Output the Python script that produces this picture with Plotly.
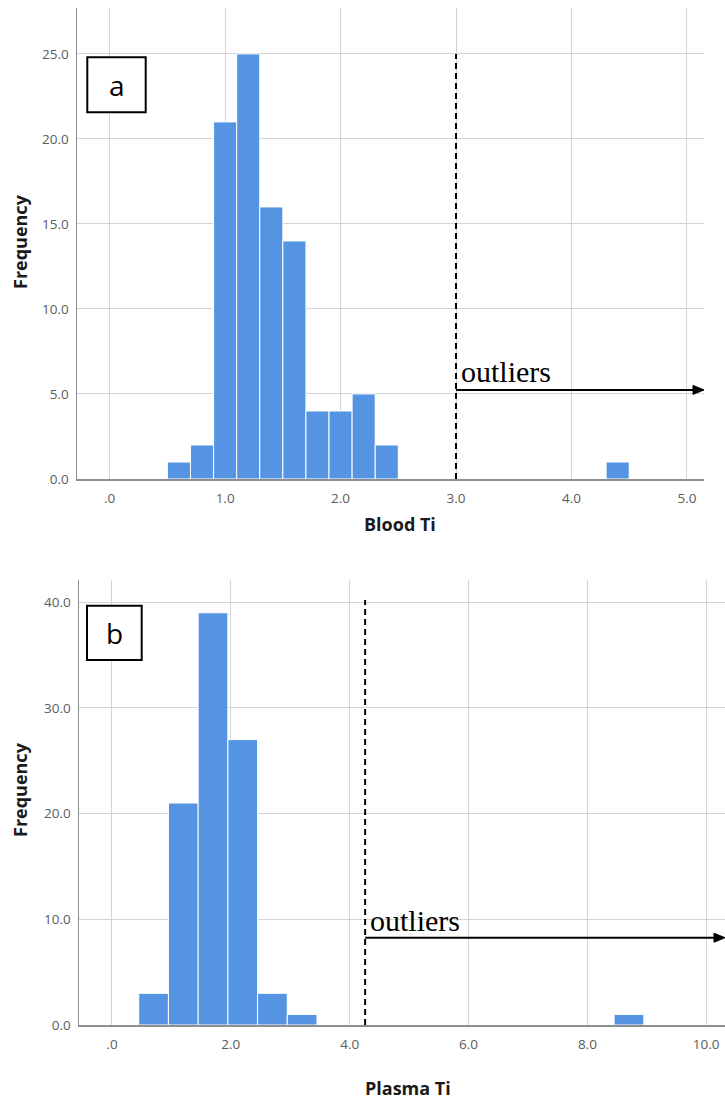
import plotly.graph_objects as go

# ---- Data ----
blood_bin_edges = [0.5, 0.7, 0.9, 1.1, 1.3, 1.5, 1.7, 1.9, 2.1, 2.3, 2.5, 4.3, 4.5]
blood_counts = [1, 2, 21, 25, 16, 14, 4, 4, 5, 2, None, 1]  # None = gap between 2.5 and 4.3
blood_xticks = [0, 1, 2, 3, 4, 5]
blood_xticktext = [".0", "1.0", "2.0", "3.0", "4.0", "5.0"]
blood_yticks = [0, 5, 10, 15, 20, 25]
blood_yticktext = ["0.0", "5.0", "10.0", "15.0", "20.0", "25.0"]
blood_cutoff = 3.0

plasma_bin_edges = [0.45, 0.95, 1.45, 1.95, 2.45, 2.95, 3.45, 8.45, 8.95]
plasma_counts = [3, 21, 39, 27, 3, 1, None, 1]
plasma_xticks = [0, 2, 4, 6, 8, 10]
plasma_xticktext = [".0", "2.0", "4.0", "6.0", "8.0", "10.0"]
plasma_yticks = [0, 10, 20, 30, 40]
plasma_yticktext = ["0.0", "10.0", "20.0", "30.0", "40.0"]
plasma_cutoff = 4.26

BAR = "#5594e2"
GRID = "#d4d4d4"
AXIS = "#8f8f8f"
TICKC = "#5c5c5c"
W, H = 725, 1100


def bars(edges, counts):
    xs, ws, ys = [], [], []
    for i, c in enumerate(counts):
        if c is None:
            continue
        lo, hi = edges[i], edges[i + 1]
        xs.append((lo + hi) / 2)
        ws.append(hi - lo)
        ys.append(c)
    return xs, ws, ys


fig = go.Figure()
bx, bw, by = bars(blood_bin_edges, blood_counts)
fig.add_trace(go.Bar(x=bx, y=by, width=bw, marker=dict(color=BAR, line=dict(color="white", width=1)),
                     xaxis="x", yaxis="y", showlegend=False, hoverinfo="skip"))
px_, pw, py = bars(plasma_bin_edges, plasma_counts)
fig.add_trace(go.Bar(x=px_, y=py, width=pw, marker=dict(color=BAR, line=dict(color="white", width=1)),
                     xaxis="x2", yaxis="y2", showlegend=False, hoverinfo="skip"))


def pxx(p):
    return p / W


def pyy(p):
    return 1 - p / H


tickfont = dict(family="Open Sans", size=13.5, color=TICKC)
common_x = dict(showgrid=True, gridcolor=GRID, gridwidth=1, zeroline=False, showline=True,
                linecolor=AXIS, linewidth=1.5, ticks="", tickfont=tickfont, ticklabelstandoff=6,
                fixedrange=True, automargin=False)
common_y = dict(showgrid=True, gridcolor=GRID, gridwidth=1, zeroline=False, showline=True,
                linecolor=AXIS, linewidth=1.5, ticks="", tickfont=tickfont, ticklabelstandoff=4,
                fixedrange=True, automargin=False)

# panel geometry in pixels
top_px = dict(x0=77, x1=704, y0=8, y1=479)
bot_px = dict(x0=79, x1=725, y0=580, y1=1025)
top_xr, top_yr = [-0.283, 5.148], [0, 27.7]
bot_xr, bot_yr = [-0.555, 10.316], [0, 42.1]

fig.update_layout(
    width=W, height=H, margin=dict(l=0, r=0, t=0, b=0, autoexpand=False),
    paper_bgcolor="white", plot_bgcolor="white", bargap=0,
    xaxis=dict(common_x, domain=[pxx(top_px["x0"]), pxx(top_px["x1"])], range=top_xr, anchor="y",
               tickvals=blood_xticks, ticktext=blood_xticktext),
    yaxis=dict(common_y, domain=[pyy(top_px["y1"]), pyy(top_px["y0"])], range=top_yr, anchor="x",
               tickvals=blood_yticks, ticktext=blood_yticktext),
    xaxis2=dict(common_x, domain=[pxx(bot_px["x0"]), pxx(bot_px["x1"])], range=bot_xr, anchor="y2",
                tickvals=plasma_xticks, ticktext=plasma_xticktext),
    yaxis2=dict(common_y, domain=[pyy(bot_px["y1"]), pyy(bot_px["y0"])], range=bot_yr, anchor="x2",
                tickvals=plasma_yticks, ticktext=plasma_yticktext),
)

dash = "6px,4px"
# dashed cutoff lines
fig.add_shape(type="line", xref="x", yref="y", x0=blood_cutoff, x1=blood_cutoff, y0=0, y1=25,
              line=dict(color="black", width=2, dash=dash))
fig.add_shape(type="line", xref="x2", yref="y2", x0=plasma_cutoff, x1=plasma_cutoff, y0=0, y1=40.2,
              line=dict(color="black", width=2, dash=dash))


def arrow(xref, yref, x_start, x_end, yv, geom, xr, yr):
    # pixels per data unit, to size the arrowhead in pixels
    sx = (geom["x1"] - geom["x0"]) / (xr[1] - xr[0])
    sy = (geom["y1"] - geom["y0"]) / (yr[1] - yr[0])
    hl, hw = 11 / sx, 4.5 / sy
    fig.add_shape(type="line", xref=xref, yref=yref, x0=x_start, x1=x_end - hl * 0.6, y0=yv, y1=yv,
                  line=dict(color="black", width=2))
    path = (f"M {x_end} {yv} L {x_end - hl} {yv + hw} L {x_end - hl} {yv - hw} Z")
    fig.add_shape(type="path", xref=xref, yref=yref, path=path, fillcolor="black",
                  line=dict(color="black", width=1))


arrow("x", "y", blood_cutoff, top_xr[1], 5.24, top_px, top_xr, top_yr)
arrow("x2", "y2", plasma_cutoff, bot_xr[1], 8.26, bot_px, bot_xr, bot_yr)

serif = dict(family="Liberation Serif", size=30, color="black")
fig.add_annotation(xref="x", yref="y", x=blood_cutoff, y=6.3, xanchor="left", yanchor="middle", xshift=3,
                   text="outliers", showarrow=False, font=serif)
fig.add_annotation(xref="x2", yref="y2", x=plasma_cutoff, y=9.93, xanchor="left", yanchor="middle", xshift=3,
                   text="outliers", showarrow=False, font=serif)

# panel label boxes
for (x0, x1, y0, y1, lab) in [(87.3, 145.7, 57.3, 112.3, "a"), (87, 141.7, 605.7, 660, "b")]:
    fig.add_shape(type="rect", xref="paper", yref="paper", x0=pxx(x0), x1=pxx(x1), y0=pyy(y1), y1=pyy(y0),
                  line=dict(color="black", width=2), fillcolor="white", layer="above")
    fig.add_annotation(xref="paper", yref="paper", x=pxx((x0 + x1) / 2), y=pyy((y0 + y1) / 2),
                       xanchor="center", yanchor="middle", text=lab, showarrow=False,
                       font=dict(family="Open Sans", size=28, color="black"))

# axis titles
tfont = dict(family="Open Sans", size=18, color="#1a1a1a")
fig.add_annotation(xref="paper", yref="paper", x=pxx(400), y=pyy(524), text="<b>Blood Ti</b>",
                   showarrow=False, xanchor="center", yanchor="middle", font=tfont)
fig.add_annotation(xref="paper", yref="paper", x=pxx(408), y=pyy(1088), text="<b>Plasma Ti</b>",
                   showarrow=False, xanchor="center", yanchor="middle", font=tfont)
fig.add_annotation(xref="paper", yref="paper", x=pxx(20), y=pyy(242), text="<b>Frequency</b>",
                   showarrow=False, textangle=-90, xanchor="center", yanchor="middle", font=tfont)
fig.add_annotation(xref="paper", yref="paper", x=pxx(20), y=pyy(790), text="<b>Frequency</b>",
                   showarrow=False, textangle=-90, xanchor="center", yanchor="middle", font=tfont)

fig.write_html("out.html", config={"displayModeBar": False, "staticPlot": True},
               post_script="document.body.style.margin='0px';document.body.style.overflow='hidden';")
